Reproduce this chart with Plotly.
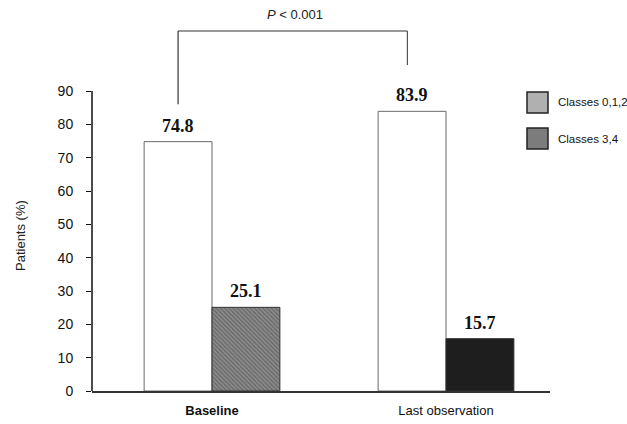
import plotly.graph_objects as go

categories = ["Baseline", "Last observation"]
tick_text = ["<b>Baseline</b>", "Last observation"]
series_names = ["Classes 0,1,2", "Classes 3,4"]
classes_012 = [74.8, 83.9]
classes_34 = [25.1, 15.7]
y_ticks = [0, 10, 20, 30, 40, 50, 60, 70, 80, 90]
p_label = "<i>P</i> < 0.001"

W, H = 627, 424
ML, MR, MT, MB = 92, 77, 10, 33
plot_h = H - MT - MB
plot_w = W - ML - MR
px_per_unit = 300 / 90
y_max = plot_h / px_per_unit
x_idx = list(range(len(categories)))
bw = 0.29
x_range = [-0.5128, 1.4444]


def px_x(p):
    return (p - ML) / plot_w


def px_y(p):
    return (H - MB - p) / plot_h


fig = go.Figure()
fig.add_trace(go.Bar(
    x=x_idx, y=classes_012, name=series_names[0], width=bw, offset=-bw,
    marker=dict(color="white", line=dict(color="#6a6a6a", width=1)),
    showlegend=False,
))
fig.add_trace(go.Bar(
    x=x_idx, y=classes_34, name=series_names[1], width=bw, offset=0,
    marker=dict(
        color=["#8c8c8c", "#1e1e1e"],
        line=dict(color="#333333", width=1),
        pattern=dict(shape=["\\", ""], fgcolor=["#4a4a4a", "#1e1e1e"],
                     bgcolor=["#b8b8b8", "#1e1e1e"], size=[3, 4], solidity=[0.45, 0.2]),
    ),
    showlegend=False,
))

annotations = []
for i, v in enumerate(classes_012):
    annotations.append(dict(x=i - bw / 2, y=v, xref="x", yref="y", text=f"<b>{v}</b>",
                            showarrow=False, yanchor="bottom", yshift=4,
                            font=dict(family="Liberation Serif", size=18, color="#111")))
for i, v in enumerate(classes_34):
    annotations.append(dict(x=i + bw / 2, y=v, xref="x", yref="y", text=f"<b>{v}</b>",
                            showarrow=False, yanchor="bottom", yshift=4,
                            font=dict(family="Liberation Serif", size=18, color="#111")))

# y-axis title
annotations.append(dict(x=px_x(20), xref="paper", xanchor="center", y=46.5, yref="y",
                        text="Patients (%)", textangle=-90, showarrow=False,
                        font=dict(family="Liberation Sans", size=13, color="#222")))
# P value
bracket_top = 108
annotations.append(dict(x=(x_idx[0] - bw / 2 + x_idx[1] - bw / 2) / 2, y=bracket_top, xref="x", yref="y",
                        text=p_label, showarrow=False, yanchor="bottom", yshift=7,
                        font=dict(family="Liberation Sans", size=13, color="#222")))

shapes = []
# y axis line up to 90
shapes.append(dict(type="line", xref="paper", yref="y", x0=0, x1=0, y0=0, y1=y_ticks[-1],
                   line=dict(color="#111", width=1.5)))
# bracket
xl = x_idx[0] - bw / 2
xr = x_idx[1] - bw / 2 - 0.02
shapes.append(dict(type="line", xref="x", yref="y", x0=xl, x1=xr, y0=bracket_top, y1=bracket_top,
                   line=dict(color="#333", width=1.2)))
shapes.append(dict(type="line", xref="x", yref="y", x0=xl, x1=xl, y0=bracket_top, y1=86,
                   line=dict(color="#333", width=1.2)))
shapes.append(dict(type="line", xref="x", yref="y", x0=xr, x1=xr, y0=bracket_top, y1=97.8,
                   line=dict(color="#555", width=1.2)))

# manual legend
legend_fill = ["#b0b0b0", "#7c7c7c"]
legend_y = [92, 128]
for name, fill, ytop in zip(series_names, legend_fill, legend_y):
    shapes.append(dict(type="rect", xref="paper", yref="paper",
                       x0=px_x(527), x1=px_x(548), y0=px_y(ytop + 21), y1=px_y(ytop),
                       fillcolor=fill, line=dict(color="#222", width=1.5)))
    annotations.append(dict(x=px_x(556), y=px_y(ytop + 10.5), xref="paper", yref="paper",
                            xanchor="left", yanchor="middle", text=name, showarrow=False,
                            font=dict(family="Liberation Sans", size=11.5, color="#111")))

fig.update_layout(
    width=W, height=H,
    margin=dict(l=ML, r=MR, t=MT, b=MB, autoexpand=False),
    paper_bgcolor="white", plot_bgcolor="white",
    barmode="overlay",
    showlegend=False,
    annotations=annotations,
    shapes=shapes,
    xaxis=dict(range=x_range, tickvals=x_idx, ticktext=tick_text, showgrid=False, zeroline=False,
               showline=True, linecolor="#333", linewidth=1.5, ticks="", ticklabelstandoff=7,
               automargin=False,
               tickfont=dict(family="Liberation Sans", size=13, color="#111")),
    yaxis=dict(range=[0, y_max], tickvals=y_ticks, showgrid=False, zeroline=False, showline=False,
               ticks="outside", ticklen=5, tickcolor="#111", tickwidth=1.2, ticklabelstandoff=10,
               automargin=False,
               tickfont=dict(family="Liberation Sans", size=14, color="#111")),
)

fig.write_html("out.html", config={"displayModeBar": False},
               post_script="document.body.style.margin='0';")
